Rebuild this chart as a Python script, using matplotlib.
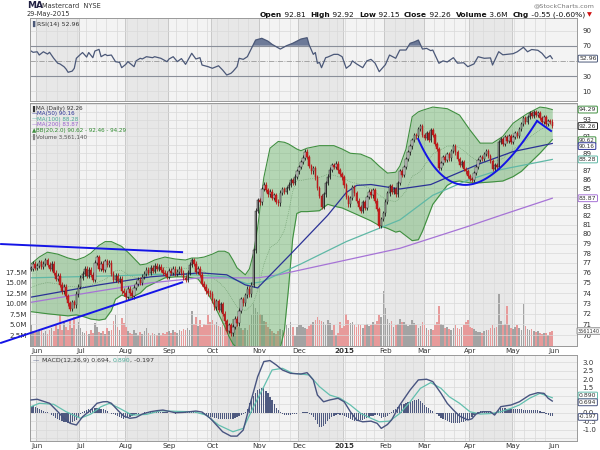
import numpy as np
import pandas as pd
import matplotlib
matplotlib.use("Agg")
import matplotlib.pyplot as plt
from matplotlib.transforms import blended_transform_factory
from matplotlib.ticker import NullLocator, FixedLocator, NullFormatter, FormatStrFormatter
from matplotlib.offsetbox import TextArea, HPacker, AnnotationBbox

# --- trading calendar -------------------------------------------------------
HOLIDAYS = ["2014-07-04", "2014-09-01", "2014-11-27", "2014-12-25", "2015-01-01",
            "2015-01-19", "2015-02-16", "2015-04-03", "2015-05-25"]

# --- daily closes (by month) -----------------------------------------------
close_may14 = [76.4, 76.9, 76.5]
close_jun = [76.7, 77.1, 76.6, 76.9, 77.3, 76.8, 76.4, 76.9, 76.0, 75.4, 75.7, 74.8, 74.2,
             74.6, 73.7, 73.0, 72.5, 73.1, 72.8, 73.9, 74.6]
close_jul = [75.5, 75.9, 76.4, 75.7, 76.3, 75.8, 75.3, 77.0, 77.6, 76.4, 76.9, 76.3, 77.2,
             76.8, 77.0, 75.9, 75.3, 75.7, 75.2, 75.4, 74.2, 74.0]
close_aug = [73.6, 74.4, 74.0, 73.7, 74.5, 74.9, 75.3, 75.0, 75.6, 75.9, 76.3, 76.0, 76.5,
             76.2, 76.7, 76.4, 76.6, 76.3, 76.0, 75.9, 75.6]
close_sep = [76.2, 76.0, 76.4, 75.9, 76.1, 76.4, 76.0, 75.5, 75.3, 76.0, 76.8, 77.3, 76.9,
             76.1, 76.4, 75.8, 74.9, 74.6, 74.2, 74.0, 73.9]
close_oct = [73.3, 72.6, 73.2, 72.4, 72.9, 72.0, 71.3, 70.4, 70.9, 70.2, 70.8, 71.5, 71.1,
             72.3, 73.4, 73.0, 73.8, 74.4, 73.9, 74.8, 78.3, 82.5, 83.7]
close_nov = [83.4, 84.9, 85.4, 84.8, 84.3, 84.6, 83.9, 84.2, 83.5, 83.3, 84.5, 84.9, 84.6,
             85.0, 85.4, 85.9, 85.6, 86.3, 86.9]
close_dec = [87.4, 88.0, 88.5, 89.2, 88.6, 87.5, 86.9, 87.3, 86.2, 85.0, 84.1, 82.9, 84.3,
             85.6, 86.3, 87.1, 87.6, 87.4, 87.8, 87.0, 86.6, 86.2]
close_jan = [85.3, 84.0, 83.2, 83.9, 85.1, 84.4, 83.6, 82.9, 82.5, 83.4, 82.8, 84.0, 84.6,
             84.2, 84.8, 83.6, 82.7, 80.9, 81.6, 82.2]
close_feb = [83.5, 84.4, 85.2, 84.6, 84.9, 84.3, 85.6, 86.9, 86.5, 87.4, 88.3, 89.1, 89.8,
             90.6, 91.2, 91.0, 91.9, 92.3, 91.2]
close_mar = [90.8, 91.4, 90.6, 91.8, 91.2, 90.1, 89.5, 87.3, 87.9, 88.6, 88.2, 88.9, 88.4,
             89.3, 89.8, 89.1, 88.3, 87.6, 88.0, 87.2, 86.9, 86.4]
close_apr = [86.0, 85.9, 86.7, 87.4, 88.2, 88.6, 88.3, 88.9, 89.3, 88.7, 88.1, 87.2, 87.6,
             87.4, 90.3, 90.7, 90.1, 90.9, 90.5, 91.1, 90.3]
close_may = [90.9, 91.4, 91.1, 91.9, 92.5, 93.3, 92.8, 93.4, 93.9, 93.5, 94.0, 93.6, 93.9,
             93.2, 92.8, 93.4, 92.5, 92.9, 92.81, 92.26]

# --- daily volume, millions ---------------------------------------------------
vol_may14 = [5.1, 3.6, 3.3]
vol_jun = [3.4, 3.9, 3.7, 3.1, 3.6, 2.9, 3.8, 4.2, 3.5, 4.9, 4.1, 7.3, 3.9, 5.7, 4.6, 3.8,
           6.1, 4.4, 6.8, 4.0, 5.7]
vol_jul = [4.2, 3.3, 3.0, 3.6, 2.8, 3.9, 3.2, 5.4, 4.6, 3.4, 3.1, 3.6, 2.9, 4.2, 3.5, 3.8,
           5.9, 7.3, 4.5, 3.9, 6.6, 5.4]
vol_aug = [4.6, 3.6, 3.1, 2.8, 3.9, 3.2, 2.7, 3.3, 2.9, 3.5, 4.2, 3.0, 2.6, 3.1, 2.8, 2.5,
           3.2, 2.7, 3.0, 2.9, 3.4]
vol_sep = [3.6, 3.2, 3.8, 3.4, 3.0, 3.9, 3.5, 4.1, 3.7, 4.4, 3.9, 8.4, 5.2, 6.9, 4.8, 6.1,
           4.5, 5.3, 4.9, 7.3, 5.6]
vol_oct = [6.1, 5.2, 5.7, 4.8, 4.6, 8.0, 5.5, 6.1, 5.3, 5.0, 6.4, 4.9, 5.7, 4.6, 4.2, 3.9,
           4.4, 3.7, 5.1, 7.3, 10.3, 9.1, 8.0]
vol_nov = [7.7, 7.4, 5.9, 5.7, 4.6, 4.1, 3.6, 3.2, 2.9, 3.5, 4.1, 3.8, 4.4, 4.9, 4.2, 5.7,
           4.6, 2.4, 4.5]
vol_dec = [4.9, 5.1, 4.6, 4.3, 4.1, 4.8, 5.2, 5.7, 6.1, 6.8, 6.2, 5.9, 5.7, 5.0, 6.3, 5.4,
           3.9, 4.9, 2.6, 3.1, 5.7, 4.4]
vol_jan = [4.8, 7.7, 6.2, 5.4, 5.7, 5.1, 4.6, 5.3, 4.9, 4.4, 5.0, 5.3, 4.7, 5.1, 5.7, 5.2,
           6.0, 7.3, 6.8, 13.2]
vol_feb = [9.0, 6.4, 5.5, 5.9, 4.6, 4.9, 5.2, 6.5, 5.6, 5.8, 5.3, 4.7, 5.0, 6.1, 5.4, 4.9,
           4.3, 4.8, 5.7]
vol_mar = [4.9, 4.4, 3.9, 4.1, 3.8, 4.9, 5.6, 9.4, 5.2, 4.9, 4.4, 4.6, 4.1, 3.8, 4.3, 4.9,
           4.2, 4.1, 4.6, 5.1, 5.7, 6.1]
vol_apr = [4.6, 4.3, 4.1, 3.6, 3.4, 3.3, 3.0, 3.5, 3.7, 3.9, 4.4, 4.9, 4.2, 4.6, 12.3, 6.0,
           4.9, 5.3, 9.4, 5.1, 4.4]
vol_may = [4.1, 4.6, 4.9, 4.4, 3.8, 9.9, 4.8, 4.1, 3.7, 4.1, 3.6, 3.3, 3.5, 3.0, 2.9, 3.2,
           3.1, 2.7, 3.3, 3.56]

# --- MACD histogram, daily ----------------------------------------------------
hist_may14 = [0.40, 0.37, 0.33]
hist_jun = [0.28, 0.22, 0.17, 0.12, 0.07, 0.02, -0.04, -0.13, -0.22, -0.31, -0.40, -0.45,
            -0.50, -0.55, -0.57, -0.59, -0.60, -0.56, -0.51, -0.45, -0.28]
hist_jul = [-0.10, 0.05, 0.10, 0.15, 0.20, 0.24, 0.27, 0.29, 0.31, 0.28, 0.25, 0.22, 0.15,
            0.08, 0.0, -0.05, -0.10, -0.15, -0.20, -0.25, -0.30, -0.35]
hist_aug = [-0.32, -0.29, -0.25, -0.20, -0.15, -0.10, -0.07, -0.03, 0.0, 0.02, 0.04, 0.05,
            0.06, 0.06, 0.05, 0.05, 0.04, 0.04, 0.04, 0.03, 0.02]
hist_sep = [0.0, -0.02, -0.04, -0.05, -0.03, -0.01, 0.02, 0.05, 0.06, 0.08, 0.09, 0.08, 0.06,
            0.03, 0.01, -0.02, -0.05, -0.10, -0.15, -0.20, -0.25]
hist_oct = [-0.28, -0.31, -0.33, -0.35, -0.37, -0.38, -0.39, -0.40, -0.40, -0.40, -0.35,
            -0.30, -0.25, -0.20, -0.15, -0.10, 0.05, 0.25, 0.60, 0.80, 1.00, 1.20, 1.35]
hist_nov = [1.40, 1.45, 1.45, 1.30, 1.15, 0.95, 0.75, 0.52, 0.30, 0.15, 0.02, -0.10, -0.12,
            -0.13, -0.12, -0.12, -0.10, -0.08, -0.05]
hist_dec = [-0.03, 0.0, 0.03, 0.05, 0.05, -0.05, -0.15, -0.25, -0.45, -0.65, -0.85, -0.85,
            -0.80, -0.65, -0.50, -0.35, -0.28, -0.21, -0.15, -0.10, -0.12, -0.15]
hist_jan = [-0.22, -0.28, -0.34, -0.40, -0.44, -0.48, -0.50, -0.48, -0.45, -0.42, -0.37,
            -0.32, -0.26, -0.20, -0.18, -0.16, -0.15, -0.22, -0.30, -0.27]
hist_feb = [-0.24, -0.20, -0.08, 0.05, 0.15, 0.25, 0.35, 0.45, 0.50, 0.54, 0.58, 0.62, 0.65,
            0.70, 0.74, 0.78, 0.80, 0.70, 0.58]
hist_mar = [0.46, 0.35, 0.27, 0.18, 0.10, 0.0, -0.10, -0.20, -0.30, -0.37, -0.44, -0.50,
            -0.55, -0.59, -0.62, -0.62, -0.61, -0.60, -0.57, -0.53, -0.49, -0.45]
hist_apr = [-0.35, -0.25, -0.15, -0.05, 0.02, 0.08, 0.12, 0.11, 0.09, 0.07, 0.05, -0.02,
            -0.08, 0.05, 0.18, 0.28, 0.27, 0.26, 0.25, 0.24, 0.22]
hist_may = [0.21, 0.21, 0.20, 0.20, 0.20, 0.19, 0.19, 0.18, 0.18, 0.17, 0.16, 0.15, 0.14,
            0.10, 0.06, 0.02, -0.06, -0.14, -0.17, -0.197]

# --- smooth overlays, sampled at trading-day index -----------------------------
ma50_idx = [0, 33, 58, 82, 95, 104, 110, 126, 144, 153, 158, 165, 179, 194, 202, 218, 234, 253]
ma50_val = [73.6, 74.8, 75.6, 76.0, 75.8, 74.8, 74.5, 77.9, 82.0, 84.5, 85.3, 85.4, 84.9,
            85.4, 86.2, 87.8, 89.2, 90.16]
ma100_idx = [0, 40, 70, 95, 105, 112, 131, 153, 179, 195, 212, 228, 253]
ma100_val = [75.5, 75.7, 75.9, 75.6, 74.9, 75.1, 76.9, 79.2, 81.5, 84.2, 85.9, 87.1, 88.28]
ma200_idx = [0, 33, 58, 82, 110, 120, 179, 212, 228, 253]
ma200_val = [73.1, 74.2, 75.0, 75.5, 75.5, 75.8, 78.5, 80.8, 82.0, 83.87]

bb_idx = [0, 4, 8, 13, 18, 22, 26, 29, 33, 36, 39, 41, 44, 48, 53, 56, 60, 65, 70, 75, 78,
          81, 84, 88, 91, 94, 96, 98, 100, 104, 106, 108, 110, 113, 116, 120, 123, 125, 127,
          129, 131, 134, 140, 144, 147, 151, 155, 160, 165, 169, 173, 177, 179, 182, 185,
          188, 190, 195, 202, 205, 208, 213, 218, 224, 229, 234, 238, 241, 244, 247, 250, 253]
bb_upper = [76.9, 77.6, 78.1, 77.9, 77.5, 77.3, 77.6, 78.0, 78.8, 79.2, 79.2, 79.0, 78.7,
            77.9, 76.8, 76.9, 77.3, 77.6, 77.4, 77.3, 77.5, 77.5, 77.6, 77.9, 78.2, 78.2,
            78.0, 77.3, 76.5, 75.8, 76.4, 78.0, 80.7, 86.2, 89.6, 90.4, 90.3, 90.1, 89.8,
            89.5, 89.3, 89.6, 89.9, 89.9, 89.9, 89.5, 89.0, 88.9, 88.4, 87.5, 86.7, 86.8,
            87.5, 89.5, 93.4, 94.0, 94.2, 94.6, 94.4, 94.0, 93.6, 91.8, 90.2, 90.2, 91.0,
            92.6, 93.3, 93.8, 94.2, 94.6, 94.5, 94.29]
bb_lower = [72.2, 72.1, 72.0, 71.9, 71.8, 71.9, 71.7, 71.5, 71.4, 71.5, 72.3, 73.4, 73.8,
            73.5, 74.0, 74.6, 75.0, 75.5, 75.6, 75.6, 75.5, 75.4, 74.6, 73.2, 72.0, 70.8,
            69.9, 69.2, 68.8, 68.8, 68.8, 68.2, 67.8, 67.5, 67.5, 68.0, 70.5, 74.5, 79.5,
            82.2, 82.4, 82.4, 82.5, 83.2, 83.0, 82.8, 82.4, 81.9, 81.4, 80.9, 80.6, 80.2,
            80.3, 79.8, 79.3, 79.4, 80.3, 83.2, 85.3, 85.7, 85.8, 85.6, 85.6, 85.7, 85.8,
            86.3, 86.9, 87.6, 88.3, 89.0, 89.8, 90.62]

rsi_idx = [0, 1, 3, 4, 6, 8, 9, 11, 13, 14, 16, 17, 18, 20, 21, 22, 24, 25, 27, 28, 30, 31,
           33, 34, 36, 37, 39, 41, 43, 44, 46, 47, 50, 51, 53, 54, 56, 59, 60, 63, 66, 67, 69,
           71, 73, 75, 78, 80, 82, 83, 86, 88, 91, 93, 95, 97, 98, 100, 101, 103, 105, 109,
           112, 115, 117, 121, 124, 127, 131, 134, 135, 137, 138, 139, 140, 141, 143, 144,
           147, 149, 151, 153, 155, 156, 158, 161, 163, 165, 167, 169, 172, 174, 177, 179,
           182, 184, 186, 188, 190, 192, 194, 195, 198, 200, 202, 205, 207, 210, 212, 215,
           217, 220, 223, 224, 227, 229, 231, 234, 236, 239, 241, 243, 246, 248, 250, 252, 253]
rsi_val = [63, 61.3, 62, 57.7, 62, 59, 61.3, 53.4, 46.8, 46, 42.3, 39.2, 34.9, 36.5, 40.2,
           53.4, 58.6, 61, 55, 61, 54.2, 63, 65.2, 55.5, 58.6, 57, 57.7, 48.9, 48, 41, 45.4,
           49, 42.3, 50, 53.4, 52.5, 55.5, 54.2, 55.5, 53.4, 48.9, 52.5, 55.5, 49, 53, 45.4,
           60, 52.5, 54.2, 44.5, 42.3, 40.2, 43.5, 37.9, 31.3, 33.5, 36, 42.3, 53.4, 52,
           55.5, 77.5, 79.8, 76, 71.8, 65.6, 70, 73.2, 78.8, 80.6, 71, 58.6, 61, 46.8, 48,
           41, 54.2, 55, 58.6, 58.6, 55.5, 40.2, 44.5, 50, 46, 41, 50, 52, 47, 35.7, 45,
           57.7, 53.4, 64.3, 64.3, 73.2, 75, 77.5, 65.6, 66.5, 63.5, 64.3, 46.8, 50, 48.5,
           54.2, 47, 47.5, 42.3, 46, 55.5, 53.4, 53.9, 44.5, 62.1, 58, 58.6, 59.5, 62, 67.9,
           62, 65, 64, 60, 53.4, 57, 52.96]

macd_idx = [0, 3, 9, 13, 16, 19, 22, 25, 29, 32, 35, 37, 39, 42, 45, 48, 51, 54, 58, 61, 64,
            67, 70, 74, 77, 80, 83, 87, 90, 93, 97, 100, 103, 106, 110, 113, 116, 119, 122,
            126, 131, 134, 137, 139, 142, 145, 149, 152, 155, 158, 161, 165, 168, 170, 173,
            175, 179, 184, 188, 192, 195, 199, 202, 205, 208, 212, 214, 216, 219, 223, 225,
            228, 233, 237, 242, 246, 249, 251, 253]
macd_val = [0.76, 0.80, 0.56, 0.06, -0.33, -0.63, -0.73, -0.24, 0.16, 0.56, 0.65, 0.66,
            0.56, 0.16, -0.2, -0.33, -0.28, -0.08, 0.06, 0.12, 0.16, 0.08, 0.0, 0.02, 0.06,
            0.1, 0.04, -0.33, -0.73, -1.13, -1.39, -1.39, -1.03, 0.36, 2.14, 3.04, 3.1,
            2.84, 2.54, 2.34, 2.3, 2.38, 1.95, 1.05, 0.65, 0.76, 0.86, 0.65, 0.06, -0.43,
            -0.54, -0.5, -0.63, -0.93, -0.7, -0.43, 0.46, 1.35, 1.95, 1.99, 1.85, 1.15, 0.56,
            0.16, -0.2, -0.43, -0.36, -0.08, 0.06, 0.06, -0.14, 0.36, 0.46, 0.65, 1.05, 1.19,
            1.15, 0.86, 0.694]
signal_idx = [0, 4, 11, 17, 24, 29, 34, 38, 43, 49, 56, 63, 71, 79, 85, 91, 98, 103, 108,
              113, 117, 122, 127, 131, 135, 140, 145, 150, 155, 160, 165, 169, 174, 179, 184,
              189, 194, 199, 203, 208, 213, 218, 223, 228, 233, 237, 242, 247, 253]
signal_val = [0.36, 0.56, 0.50, 0.06, -0.33, -0.08, 0.36, 0.56, 0.26, -0.14, -0.1, 0.12,
              0.08, 0.06, -0.14, -0.73, -1.13, -0.93, 0.36, 1.55, 2.54, 2.64, 2.34, 2.3,
              2.24, 1.55, 1.05, 0.86, 0.46, -0.04, -0.33, -0.54, -0.5, -0.04, 0.65, 1.45,
              1.79, 1.45, 0.95, 0.56, 0.06, -0.08, -0.05, 0.06, 0.26, 0.46, 0.86, 1.15, 0.89]

# hand-drawn annotations on the price panel: (trading-day index, price)
trend_top = [(-15.0, 78.95), (73.8, 78.1)]
trend_bottom = [(-15.0, 69.26), (73.8, 75.08)]
cup_pts = [(187.9, 90.7), (213.1, 85.4), (245.6, 92.88)]
cup_tail = [(245.6, 92.88), (252.4, 91.66)]

closes = np.array(close_may14 + close_jun + close_jul + close_aug + close_sep + close_oct +
                  close_nov + close_dec + close_jan + close_feb + close_mar + close_apr +
                  close_may)
volume = np.array(vol_may14 + vol_jun + vol_jul + vol_aug + vol_sep + vol_oct + vol_nov +
                  vol_dec + vol_jan + vol_feb + vol_mar + vol_apr + vol_may)
hist = np.array(hist_may14 + hist_jun + hist_jul + hist_aug + hist_sep + hist_oct +
                hist_nov + hist_dec + hist_jan + hist_feb + hist_mar + hist_apr + hist_may)

days = pd.bdate_range("2014-05-28", "2015-05-29")
days = days[~days.isin(pd.to_datetime(HOLIDAYS))]
n = len(days)
x = np.arange(n)

opens = np.r_[closes[0], closes[:-1]]
up = closes >= opens
highs = np.maximum(opens, closes) + 0.25
lows = np.minimum(opens, closes) - 0.25

month_starts = [i for i in range(1, n) if days[i].month != days[i - 1].month] + [n]
week_starts = [i for i in range(1, n) if days[i].weekday() < days[i - 1].weekday()]
month_names = ["Jun", "Jul", "Aug", "Sep", "Oct", "Nov", "Dec", "2015", "Feb", "Mar", "Apr",
               "May", "Jun"]

XL = (-0.5, 265)
GRID = "#d9d9d9"
TXT = "#333333"
FS = 5.1

fig = plt.figure(figsize=(6, 4.5), dpi=100)


def px_axes(x0, y0, x1, y1):
    return fig.add_axes([x0 / 600, 1 - y1 / 450, (x1 - x0) / 600, (y1 - y0) / 450])


def base_style(ax):
    ax.set_xlim(*XL)
    ax.set_facecolor("#f3f3f3")
    for k, s in enumerate(month_starts[:-1]):
        if k % 2 == 0:
            ax.axvspan(s - 0.5, month_starts[k + 1] - 0.5, color="#e7e7e7", lw=0, zorder=0)
    for w in week_starts:
        ax.axvline(w - 0.5, color=GRID, lw=0.5, zorder=0.5)
    for m in month_starts[:-1]:
        ax.axvline(m - 0.5, color="#c4c4c4", lw=0.6, zorder=0.5)
    ax.set_xticks([])
    for sp in ax.spines.values():
        sp.set_color("#9a9a9a")
        sp.set_linewidth(0.7)


def tag(ax, y, text, ec, size=4.4, dx=1.5):
    ax.annotate(text, xy=(1, y), xycoords=("axes fraction", "data"), xytext=(dx, 0),
                textcoords="offset points", fontsize=size, va="center", ha="left", color=TXT,
                bbox=dict(boxstyle="round,pad=0.15", fc="white", ec=ec, lw=0.7),
                annotation_clip=False, zorder=10)


def packed(ax, parts, xy, size):
    boxes = [TextArea(t, textprops=dict(fontsize=size, color=c, fontweight=w))
             for t, c, w in parts]
    hp = HPacker(children=boxes, pad=0, sep=0, align="baseline")
    ab = AnnotationBbox(hp, xy, xycoords="axes fraction", box_alignment=(0, 1),
                        frameon=False, pad=0, zorder=9)
    ax.add_artist(ab)


# ---------------- RSI panel ----------------
ax_rsi = px_axes(30, 18, 577, 101)
base_style(ax_rsi)
ax_rsi.set_ylim(-3, 106.6)
for lv in (10, 90):
    ax_rsi.axhline(lv, color=GRID, lw=0.5)
ax_rsi.axhline(70, color="#8a8f9a", lw=0.8)
ax_rsi.axhline(30, color="#8a8f9a", lw=0.8)
ax_rsi.axhline(50, color="#9a9a9a", lw=0.6, ls="-.")
rv = np.array(rsi_val)
ax_rsi.fill_between(rsi_idx, rv, 70, where=rv > 70, interpolate=True, color="#6d7a98", lw=0)
ax_rsi.plot(rsi_idx, rv, color="#4b5878", lw=0.9)
ax_rsi.yaxis.tick_right()
ax_rsi.set_yticks([10, 30, 70, 90])
ax_rsi.tick_params(axis="y", length=0, labelsize=FS, labelcolor=TXT, pad=4)
tag(ax_rsi, 52.96, "52.96", "#4b5878")
packed(ax_rsi, [("\u258c", "#4b5878", "normal"), ("RSI(14) 52.96", TXT, "normal")],
       (0.004, 0.96), 4.5)

# ---------------- volume (behind price) ----------------
ax_vol = px_axes(30, 103, 577, 346)
base_style(ax_vol)
ax_vol.set_ylim(0, 57.8)
vcol = np.where(up, "#a3a3a3", "#e79a9a")
ax_vol.bar(x, volume, width=0.8, color=vcol, lw=0, zorder=2)
ax_vol.set_yticks([2.5, 5.0, 7.5, 10.0, 12.5, 15.0, 17.5])
ax_vol.set_yticklabels(["2.5M", "5.0M", "7.5M", "10.0M", "12.5M", "15.0M", "17.5M"])
ax_vol.tick_params(axis="y", length=0, labelsize=FS, labelcolor=TXT, pad=2)

# ---------------- price panel ----------------
ax = px_axes(30, 103, 577, 346)
ax.set_facecolor("none")
ax.set_xlim(*XL)
ax.set_yscale("log")
ax.set_ylim(69.0, 95.11)
for sp in ax.spines.values():
    sp.set_color("#9a9a9a")
    sp.set_linewidth(0.7)
for lv in range(70, 96):
    ax.axhline(lv, color=GRID, lw=0.5, zorder=0.5)
ax.set_xticks([])
ax.yaxis.tick_right()
ax.yaxis.set_major_locator(FixedLocator([70, 71, 72, 73, 74, 75, 76, 77, 78, 79, 80, 81, 82,
                                         83, 85, 86, 87, 89, 91, 93]))
ax.yaxis.set_major_formatter(FormatStrFormatter("%d"))
ax.yaxis.set_minor_locator(NullLocator())
ax.yaxis.set_minor_formatter(NullFormatter())
ax.tick_params(axis="y", length=0, labelsize=FS, labelcolor=TXT, pad=4)

bbu = np.array(bb_upper)
bbl = np.array(bb_lower)
ax.fill_between(bb_idx, bbl, bbu, color="#5fae5f", alpha=0.42, lw=0, zorder=1)
ax.plot(bb_idx, bbu, color="#3f8f3f", lw=0.8, zorder=1.5)
ax.plot(bb_idx, bbl, color="#3f8f3f", lw=0.8, zorder=1.5)
ax.plot(bb_idx, (bbu + bbl) / 2, color="#6a9a6a", lw=0.5, ls=":", zorder=1.5)

ax.plot(ma200_idx, ma200_val, color="#a673d6", lw=0.9, zorder=2)
ax.plot(ma100_idx, ma100_val, color="#5fb8a6", lw=0.9, zorder=2)
ax.plot(ma50_idx, ma50_val, color="#2b3296", lw=0.9, zorder=2)

wick_col = np.where(up, "#1a1a1a", "#b01818")
face_col = np.where(up, "#d8d8d8", "#c81e1e")
ax.vlines(x, lows, highs, colors=wick_col, lw=0.6, zorder=3)
body = np.maximum(np.abs(closes - opens), 0.06)
ax.bar(x, body, bottom=np.minimum(opens, closes), width=0.7, color=face_col,
       edgecolor=wick_col, lw=0.35, zorder=3.5)

# annotations (user-drawn trend lines and cup)
for seg in (trend_top, trend_bottom):
    ax.plot([p[0] for p in seg], [p[1] for p in seg], color="#1414e6", lw=1.4,
            clip_on=False, zorder=6, solid_capstyle="butt")
p0, pv, p2 = [np.array([a, np.log(b)]) for a, b in cup_pts]
p1 = 2 * pv - 0.5 * (p0 + p2)
t = np.linspace(0, 1, 60)[:, None]
curve = (1 - t) ** 2 * p0 + 2 * t * (1 - t) * p1 + t ** 2 * p2
ax.plot(curve[:, 0], np.exp(curve[:, 1]), color="#1414e6", lw=1.4, zorder=6)
ax.plot([p[0] for p in cup_tail], [p[1] for p in cup_tail], color="#1414e6", lw=1.4, zorder=6)

legend_lines = [
    [("\u258c", "#333333"), ("MA (Daily) 92.26", TXT)],
    [("\u2014", "#2b3296"), ("MA(50) 90.16", "#2b3296")],
    [("\u2014", "#5fb8a6"), ("MA(100) 88.28", "#4aa896")],
    [("\u2014", "#a673d6"), ("MA(200) 83.87", "#9a62cc")],
    [("\u25b2", "#3f8f3f"), ("BB(20,2.0) 90.62 - 92.46 - 94.29", "#2f8a2f")],
    [("\u258c", "#888888"), ("Volume 3,561,140", "#555555")],
]
for k, row in enumerate(legend_lines):
    packed(ax, [(t_, c_, "normal") for t_, c_ in row], (0.003, 0.99 - k * 0.0232), 4.1)

tag(ax, 94.29, "94.29", "#3f8f3f")
tag(ax, 92.26, "92.26", "#222222")
tag(ax, 90.55, "90.62", "#3f8f3f", size=4.1)
tag(ax, 89.85, "90.16", "#2b3296", size=4.1)
tag(ax, 88.28, "88.28", "#5fb8a6")
tag(ax, 83.87, "83.87", "#a673d6")
vol_tag_y = 69.0 * np.exp((3.56 / 57.8) * np.log(95.11 / 69.0))
tag(ax, vol_tag_y, "3561140", "#888888", size=3.6, dx=0.6)

# ---------------- MACD panel ----------------
ax_m = px_axes(30, 355, 577, 441)
base_style(ax_m)
ax_m.set_ylim(-1.68, 3.43)
for lv in np.arange(-1.5, 3.5, 0.5):
    ax_m.axhline(lv, color=GRID, lw=0.5, zorder=0.5)
ax_m.bar(x, hist, width=0.6, color="#4f5a80", lw=0, zorder=2)
ax_m.plot(signal_idx, signal_val, color="#62bfae", lw=0.9, zorder=3)
ax_m.plot(macd_idx, macd_val, color="#485480", lw=1.0, zorder=3)
ax_m.yaxis.tick_right()
ax_m.set_yticks([-1.0, -0.5, 0.0, 1.5, 2.0, 2.5, 3.0])
ax_m.set_yticklabels(["-1.0", "-0.5", "0.0", "1.5", "2.0", "2.5", "3.0"])
ax_m.tick_params(axis="y", length=0, labelsize=FS, labelcolor=TXT, pad=4)
tag(ax_m, 1.02, "0.890", "#62bfae")
tag(ax_m, 0.62, "0.694", "#485480")
tag(ax_m, -0.25, "-0.197", "#485480", size=4.0)
packed(ax_m, [("\u2014 ", "#485480", "normal"), ("MACD(12,26,9) 0.694, ", TXT, "normal"),
              ("0.890", "#4aa896", "normal"), (", -0.197", TXT, "normal")],
       (0.006, 0.97), 4.5)

# ---------------- month labels ----------------
for ref_ax, ypx in ((ax, 351), (ax_m, 446)):
    tr = blended_transform_factory(ref_ax.transData, fig.transFigure)
    for s, name in zip([3] + month_starts[1:], month_names):
        ref_ax.text(s, 1 - ypx / 450, name, transform=tr, fontsize=FS, ha="center",
                    va="center", color=TXT, fontweight="bold" if name == "2015" else "normal",
                    clip_on=False)

# ---------------- header ----------------
fig.text(27 / 600, 1 - 6 / 450, "MA", fontsize=6.5, fontweight="bold", color="#222244",
         va="center")
fig.text(42 / 600, 1 - 6.5 / 450, "Mastercard  NYSE", fontsize=4.8, color=TXT, va="center")
fig.text(27 / 600, 1 - 14 / 450, "29-May-2015", fontsize=4.8, color=TXT, va="center")
fig.text(594 / 600, 1 - 6 / 450, "@StockCharts.com", fontsize=4.6, color="#777777",
         ha="right", va="center")
parts = [("Open", "bold"), (" 92.81  ", "normal"), ("High", "bold"), (" 92.92  ", "normal"),
         ("Low", "bold"), (" 92.15  ", "normal"), ("Close", "bold"), (" 92.26  ", "normal"),
         ("Volume", "bold"), (" 3.6M  ", "normal"), ("Chg", "bold"),
         (" -0.55 (-0.60%)", "normal")]
boxes = [TextArea(t_, textprops=dict(fontsize=5.4, fontweight=w, color="#111111"))
         for t_, w in parts]
boxes.append(TextArea(" \u25bc", textprops=dict(fontsize=4.6, color="#d01010")))
hp = HPacker(children=boxes, pad=0, sep=0, align="baseline")
ab = AnnotationBbox(hp, (592 / 600, 1 - 15 / 450), xycoords="figure fraction",
                    box_alignment=(1, 0.5), frameon=False, pad=0)
fig.add_artist(ab)

fig.savefig("out.png", dpi=100, facecolor="white")
